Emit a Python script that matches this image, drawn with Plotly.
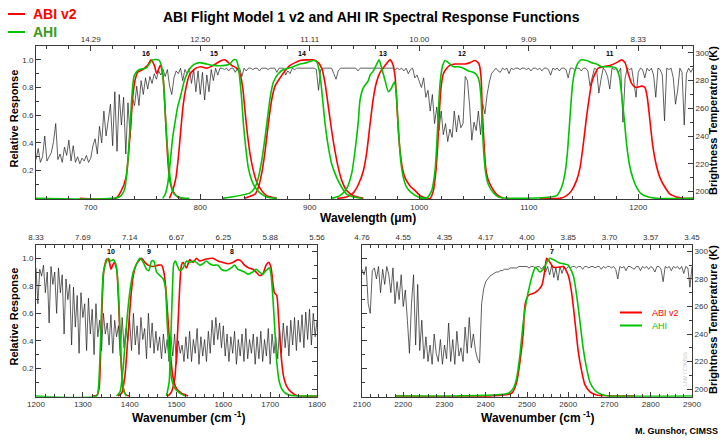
import plotly.graph_objects as go

# ------------------------------------------------------------------ data
# Brightness temperature spectra (K), sampled on a regular wavenumber grid
TOP_BT_START, TOP_BT_STEP = 650, 2
TOP_BT = [
    223, 231, 221, 225, 240, 222, 225, 228, 236, 249,
    223, 227, 221, 232, 226, 237, 222, 233, 221, 225,
    220, 224, 222, 226, 221, 224, 233, 238, 227, 247,
    235, 258, 240, 250, 263, 233, 272, 229, 270, 248,
    268, 227, 264, 239, 268, 262, 276, 262, 280, 270,
    282, 274, 283, 278, 285, 281, 287, 284, 288, 283,
    288, 276, 270, 282, 287, 285, 289, 280, 288, 285,
    289, 278, 288, 272, 287, 270, 286, 266, 284, 272,
    288, 280, 289, 284, 289, 289, 288, 289, 287, 289,
    289, 286, 289, 289, 283, 289, 287, 289, 289, 288,
    289, 289, 287, 289, 289, 289, 288, 289, 289, 289,
    286, 289, 289, 289, 284, 287, 285, 289, 288, 289,
    289, 289, 289, 289, 289, 289, 289, 289, 288, 273,
    288, 289, 289, 289, 289, 289, 285, 281, 287, 289,
    289, 289, 289, 289, 289, 289, 289, 287, 289, 289,
    289, 289, 289, 289, 289, 289, 289, 289, 288, 289,
    289, 289, 289, 289, 288, 289, 288, 289, 287, 289,
    285, 288, 289, 282, 284, 279, 275, 282, 268, 273,
    258, 270, 249, 261, 244, 258, 241, 249, 236, 245,
    239, 258, 243, 255, 246, 249, 283, 280, 262, 237,
    250, 244, 258, 241, 263, 256, 270, 279, 285, 287,
    289, 287, 286, 289, 288, 289, 285, 289, 288, 289,
    289, 288, 289, 289, 288, 289, 287, 289, 289, 288,
    289, 287, 289, 289, 288, 284, 289, 288, 289, 287,
    289, 289, 288, 282, 289, 289, 288, 289, 289, 287,
    289, 289, 287, 276, 283, 289, 288, 271, 281, 289,
    287, 283, 274, 289, 288, 289, 286, 289, 250, 282,
    289, 288, 289, 279, 268, 286, 289, 288, 282, 289,
    287, 289, 284, 268, 289, 288, 284, 251, 289, 288,
    289, 282, 263, 273, 289, 286, 248, 285, 289, 286,
    289,
]

BL_BT_START, BL_BT_STEP = 1200, 4
BL_BT = [
    288, 262, 287, 282, 290, 270, 285, 248, 289, 276,
    285, 255, 288, 270, 283, 240, 280, 265, 276, 232,
    274, 245, 268, 226, 270, 252, 262, 228, 266, 240,
    258, 225, 262, 238, 250, 228, 255, 240, 248, 232,
    254, 226, 250, 238, 246, 224, 252, 230, 244, 235,
    250, 228, 255, 232, 246, 225, 252, 236, 244, 222,
    255, 230, 248, 226, 242, 228, 238, 222, 240, 226,
    236, 220, 238, 224, 240, 218, 235, 226, 232, 220,
    238, 222, 242, 220, 236, 226, 244, 218, 238, 224,
    236, 220, 242, 226, 250, 232, 252, 236, 248, 230,
    246, 224, 240, 220, 238, 226, 242, 218, 236, 224,
    240, 220, 244, 222, 236, 226, 240, 218, 238, 222,
    242, 220, 236, 224, 244, 218, 240, 226, 238, 222,
    244, 226, 248, 230, 246, 224, 250, 232, 252, 228,
    250, 234, 254, 230, 256, 236, 258, 232, 255, 238,
    250,
]

BR_BT_START, BR_BT_STEP = 2100, 5
BR_BT = [
    287, 283, 289, 262, 255, 286, 288, 280, 289, 270,
    287, 276, 289, 283, 270, 288, 262, 278, 265, 283,
    260, 272, 250, 226, 262, 283, 232, 276, 228, 250,
    222, 238, 220, 232, 218, 240, 226, 220, 236, 218,
    232, 222, 248, 220, 236, 218, 242, 224, 230, 220,
    245, 226, 252, 230, 240, 228, 222, 219, 262, 273,
    278, 280, 282, 283, 284, 285, 285, 286, 286, 287,
    287, 287, 288, 288, 288, 288, 289, 289, 289, 289,
    289, 288, 289, 289, 288, 289, 289, 287, 289, 285,
    289, 283, 290, 281, 288, 279, 289, 284, 289, 287,
    289, 288, 289, 289, 288, 289, 289, 287, 289, 289,
    288, 289, 289, 288, 289, 289, 287, 289, 288, 289,
    289, 288, 289, 287, 280, 289, 288, 289, 286, 289,
    289, 288, 287, 289, 289, 286, 289, 288, 289, 287,
    289, 288, 285, 289, 289, 287, 278, 289, 288, 289,
    286, 289, 288, 289, 287, 289, 284, 289, 288, 274,
    289,
]

# ABI v2 (red) and AHI (green) spectral response functions
ABI_B16_WN = [690, 723, 727.6, 732.2, 735.2, 736.8, 738.3, 740.4, 742.8, 747.4, 752.0, 755.0, 758.1,
              760.2, 763.5, 765.7, 767.2, 768.7, 770.2, 771.8, 774.8, 779.4, 784]
ABI_B16 = [0, 0, 0.05, 0.15, 0.39, 0.56, 0.73, 0.85, 0.91, 0.93, 0.96, 1.0, 0.96,
           0.90, 0.96, 0.90, 0.75, 0.51, 0.30, 0.15, 0.056, 0.01, 0]
AHI_B16_WN = [650, 726.1, 730.7, 733.7, 735.8, 737.7, 739.8, 744.4, 750.5, 753.5, 756.5, 762.0, 764.5,
              766.3, 767.8, 769.3, 771.2, 773.3, 776.3, 782.4, 790]
AHI_B16 = [0, 0.01, 0.06, 0.25, 0.5, 0.75, 0.89, 0.93, 0.94, 0.97, 1.0, 1.0, 0.96,
           0.85, 0.65, 0.45, 0.25, 0.10, 0.03, 0.005, 0]

ABI_B15_WN = [771.8, 774.8, 777.8, 780.3, 782.4, 784.5, 787.0, 790.0, 793.1, 796.1, 800.7, 805.9, 812,
              818, 822.6, 825.7, 828.7, 833.3, 836.3, 838.8, 840.9, 843, 845.5, 848.5, 851.5, 856.1,
              860.6, 869.8]
ABI_B15 = [0, 0.056, 0.15, 0.32, 0.51, 0.68, 0.80, 0.89, 0.92, 0.94, 0.95, 0.94, 0.96,
           0.99, 1.0, 0.98, 0.96, 0.94, 0.90, 0.80, 0.63, 0.47, 0.32, 0.20, 0.12, 0.056,
           0.02, 0]
AHI_B15_WN = [765.7, 768, 770.2, 771.8, 773.3, 774.8, 777.2, 779.4, 782.4, 785.5, 788.5, 793.1, 799.2,
              805.9, 812, 822.6, 827.2, 830.2, 832.7, 834.8, 836.3, 837.9, 839.4, 841.5, 843.9,
              847, 850, 854.6, 860.7, 869.8]
AHI_B15 = [0, 0.03, 0.10, 0.20, 0.32, 0.44, 0.56, 0.66, 0.75, 0.85, 0.91, 0.96, 0.98,
           0.97, 0.96, 0.96, 0.97, 1.0, 1.0, 0.95, 0.85, 0.71, 0.54, 0.37, 0.22,
           0.13, 0.08, 0.04, 0.01, 0]

ABI_B14_WN = [840, 850, 853.1, 856.1, 859.2, 862.2, 865.2, 868.3, 872.9, 877.4, 882, 886.6, 891.1,
              897.2, 903.3, 907.9, 910.9, 914, 917, 920, 923.1, 926.1, 929.2, 933.7, 939.8, 949]
ABI_B14 = [0, 0.03, 0.08, 0.18, 0.34, 0.54, 0.71, 0.81, 0.87, 0.92, 0.96, 0.98, 0.995,
           1.0, 1.0, 0.98, 0.94, 0.83, 0.66, 0.49, 0.34, 0.22, 0.13, 0.056, 0.02, 0]
AHI_B14_WN = [820, 845.5, 850, 853.1, 856.1, 859.2, 862.2, 864.3, 866.8, 871.3, 875.9, 880.5, 885,
              891.1, 897.2, 903.3, 906, 907.9, 910, 911.8, 914, 917, 920, 924.6, 929.2, 933.7,
              939.8, 948]
AHI_B14 = [0, 0.04, 0.08, 0.15, 0.27, 0.44, 0.63, 0.75, 0.84, 0.90, 0.93, 0.94, 0.95,
           0.97, 0.98, 0.995, 0.99, 0.95, 0.85, 0.71, 0.54, 0.37, 0.25, 0.15, 0.08, 0.03,
           0.01, 0]

ABI_B13_WN = [925, 933.7, 939.8, 944.4, 949, 952, 955, 958, 961, 964.2, 968.8, 973.3, 975.8, 977.9,
              979.4, 980.9, 982.5, 984.6, 987, 991.6, 996.2, 1000.7, 1006.8]
ABI_B13 = [0, 0.01, 0.04, 0.10, 0.20, 0.33, 0.53, 0.72, 0.84, 0.91, 0.96, 1.0, 0.97, 0.88,
           0.71, 0.49, 0.34, 0.22, 0.15, 0.09, 0.056, 0.02, 0]
AHI_B13_WN = [920, 927.6, 933.7, 938.3, 941.3, 944.4, 945.9, 949, 953.5, 955.1, 958.1, 961.2, 963.3,
              965.7, 968.8, 971.8, 974.2, 977.3, 978.8, 980.3, 981.9, 983.4, 985.5, 988.5, 993.1,
              999.2, 1008]
AHI_B13 = [0, 0.02, 0.07, 0.18, 0.34, 0.56, 0.71, 0.80, 0.85, 0.89, 0.92, 0.97, 1.0,
           0.94, 0.85, 0.77, 0.79, 0.84, 0.78, 0.59, 0.39, 0.25, 0.15, 0.08, 0.04,
           0.01, 0]

ABI_B12_WN = [1000, 1009.9, 1012.9, 1015, 1016.9, 1018.4, 1019.9, 1022, 1025.1, 1028.1, 1032.7, 1037.3,
              1041.8, 1046.4, 1051, 1054.6, 1056.4, 1057.6, 1059.2, 1060.7, 1063.1, 1066.2, 1070.7, 1076.8]
ABI_B12 = [0, 0, 0.056, 0.18, 0.39, 0.63, 0.80, 0.90, 0.94, 0.96, 0.97, 0.97,
           0.97, 0.98, 0.995, 0.97, 0.88, 0.63, 0.39, 0.22, 0.13, 0.08, 0.03, 0]
AHI_B12_WN = [1000, 1006.8, 1011.4, 1014.4, 1016, 1017.5, 1019, 1021.1, 1023.6, 1026.6, 1031.2, 1035.7,
              1040.3, 1044.9, 1049.4, 1052.5, 1054.6, 1056.4, 1057.6, 1059.2, 1060.7, 1063.1, 1067.7,
              1072.3, 1081.4]
AHI_B12 = [0, 0, 0.056, 0.2, 0.39, 0.63, 0.83, 0.95, 0.995, 0.98, 0.95, 0.95,
           0.94, 0.92, 0.91, 0.89, 0.85, 0.73, 0.51, 0.3, 0.18, 0.1, 0.04,
           0.01, 0]

ABI_B11_WN = [1110, 1128.5, 1134.6, 1139.1, 1143.7, 1146.8, 1149.8, 1152.8, 1155.3, 1157.4, 1160.5, 1163.5,
              1168.1, 1174.2, 1180.2, 1184.8, 1187.9, 1190.9, 1193.9, 1197.9, 1203.1, 1206.1, 1208.2,
              1210.7, 1213.1, 1216.2, 1219.8, 1224.4, 1229, 1235, 1241.1, 1250]
ABI_B11 = [0, 0, 0.02, 0.056, 0.13, 0.22, 0.39, 0.59, 0.73, 0.83, 0.90, 0.94,
           0.95, 0.96, 0.98, 1.0, 0.98, 0.90, 0.83, 0.80, 0.81, 0.80, 0.73,
           0.56, 0.39, 0.25, 0.15, 0.08, 0.03, 0.01, 0, 0]
AHI_B11_WN = [1080, 1125.5, 1130, 1133.1, 1135.2, 1137, 1138.5, 1140.1, 1142.2, 1145.2, 1148.3, 1152.8,
              1157.4, 1162, 1166.5, 1171.1, 1175.7, 1179.6, 1182.7, 1184.8, 1187, 1189.4, 1191.8,
              1194.9, 1198.5, 1203.1, 1209.2, 1216.8, 1250]
AHI_B11 = [0, 0.02, 0.08, 0.18, 0.32, 0.51, 0.68, 0.83, 0.92, 0.98, 1.0, 0.995,
           0.98, 0.97, 0.95, 0.95, 0.95, 0.94, 0.88, 0.75, 0.59, 0.39, 0.25,
           0.15, 0.08, 0.03, 0.01, 0, 0]

ABI_B10_WN = [1320, 1330, 1334.7, 1338.3, 1341.1, 1344.6, 1351, 1356, 1360.2, 1363.8, 1367.3, 1372.3,
              1375.8, 1379.4, 1382.9, 1386.5, 1392.1, 1400]
ABI_B10 = [0, 0.005, 0.055, 0.345, 0.66, 0.9, 0.995, 0.98, 0.92, 0.95, 0.97, 0.92,
           0.73, 0.417, 0.176, 0.055, 0.007, 0]
AHI_B10_WN = [1200, 1329.7, 1333.3, 1336.8, 1340.4, 1343.9, 1349.6, 1354.6, 1359.5, 1365.2, 1370.2,
              1373.7, 1377.3, 1380.8, 1384.3, 1387.9, 1393.6]
AHI_B10 = [0, 0, 0.055, 0.3, 0.66, 0.9, 0.97, 1.0, 0.98, 0.99, 0.96,
           0.875, 0.66, 0.34, 0.13, 0.03, 0]

ABI_B09_WN = [1375, 1382.9, 1390, 1397.1, 1402.1, 1407.7, 1414.8, 1425.5, 1432.6, 1439.6, 1450.3, 1460.9,
              1468, 1473, 1477.2, 1482.2, 1487.1, 1492.8, 1499.9, 1510.5, 1524.7]
ABI_B09 = [0, 0.02, 0.15, 0.47, 0.7, 0.875, 0.96, 1.0, 0.97, 0.95, 0.94, 0.95,
           0.95, 0.9, 0.78, 0.54, 0.3, 0.13, 0.055, 0.02, 0]
AHI_B09_WN = [1372, 1379.4, 1386.5, 1392.1, 1397.1, 1402.1, 1407.7, 1414.8, 1421.9, 1429, 1436.1, 1441,
              1446.7, 1451.7, 1457.4, 1464.5, 1471.5, 1476.5, 1480, 1484.3, 1489.3, 1496.4, 1507, 1517.6]
AHI_B09 = [0, 0.03, 0.22, 0.47, 0.66, 0.8, 0.9, 0.96, 1.0, 0.97, 0.92, 0.91,
           0.98, 0.98, 0.9, 0.875, 0.85, 0.78, 0.54, 0.3, 0.13, 0.055, 0.02, 0]

ABI_B08_WN = [1482.2, 1489.3, 1496.4, 1499.9, 1503.5, 1507, 1510.5, 1514.1, 1521.2, 1528.3, 1535.4, 1542.5,
              1549.5, 1563.7, 1577.9, 1588.5, 1599.2, 1609.8, 1620.4, 1631.1, 1638.2, 1645.3, 1654.5,
              1663, 1670.1, 1677.2, 1684.2, 1691.3, 1697, 1702, 1705.5, 1709.1, 1714, 1718.3, 1723.2,
              1728.2, 1735.3, 1744.5, 1758.7, 1800]
ABI_B08 = [0, 0.03, 0.13, 0.3, 0.54, 0.8, 0.95, 0.97, 0.93, 0.99, 0.97, 1.0,
           0.98, 0.995, 1.0, 0.98, 0.97, 0.96, 0.97, 0.99, 0.98, 0.95, 0.93,
           0.92, 0.9, 0.875, 0.885, 0.95, 0.97, 0.93, 0.83, 0.75, 0.73, 0.54, 0.3,
           0.15, 0.07, 0.03, 0, 0]
AHI_B08_WN = [1478.6, 1484.3, 1487.9, 1491.4, 1494.2, 1497.8, 1501.3, 1507, 1514.1, 1521.2, 1528.3, 1535.4,
              1542.5, 1549.5, 1556.6, 1563.7, 1570.8, 1577.9, 1588.5, 1595.6, 1606.3, 1616.9, 1624,
              1631.1, 1638.2, 1645.3, 1652.3, 1663, 1670.1, 1677.2, 1684.2, 1691.3, 1698.4, 1702,
              1705.5, 1709.8, 1714, 1719.7, 1726.8, 1737.4, 1755.1, 1800]
AHI_B08 = [0, 0.1, 0.42, 0.78, 0.96, 0.98, 0.95, 0.91, 0.93, 0.98, 0.97, 0.98,
           0.97, 0.95, 0.96, 0.98, 0.96, 0.95, 0.95, 0.92, 0.91, 0.93, 0.95,
           0.92, 0.91, 0.9, 0.885, 0.9, 0.92, 0.9, 0.885, 0.91, 0.93, 0.875,
           0.73, 0.49, 0.25, 0.1, 0.04, 0.01, 0, 0]

ABI_B07_WN = [2180, 2462.8, 2474.9, 2483, 2491.1, 2495.1, 2503.2, 2519.4, 2535.5, 2543.6, 2547.6, 2555.7,
              2563.8, 2575.9, 2588, 2600.2, 2608.2, 2616.3, 2624.4, 2632.5, 2640.6, 2652.7, 2668.8, 2760]
ABI_B07 = [0, 0.02, 0.1, 0.25, 0.465, 0.66, 0.73, 0.75, 0.8, 0.92, 1.0, 0.97,
           0.935, 0.935, 0.94, 0.875, 0.75, 0.54, 0.32, 0.18, 0.08, 0.03, 0.007, 0]
AHI_B07_WN = [2180, 2454.7, 2466.8, 2474.9, 2483, 2491.1, 2499.2, 2507.2, 2515.3, 2521, 2531.5, 2539.6,
              2547.6, 2555.7, 2576, 2588, 2600, 2612.3, 2620.4, 2628.4, 2636.5, 2644.6, 2652.7,
              2664.8, 2681, 2697, 2900]
AHI_B07 = [0, 0.02, 0.055, 0.13, 0.3, 0.54, 0.7, 0.81, 0.9, 0.935, 0.9, 0.92,
           0.97, 1.0, 0.97, 0.96, 0.95, 0.875, 0.73, 0.54, 0.34, 0.2, 0.1,
           0.04, 0.01, 0, 0]

# tick values and labels
TOP_TICKS = [700, 800, 900, 1000, 1100, 1200]
TOP_TICK_LABELS = ["14.29", "12.50", "11.11", "10.00", "9.09", "8.33"]
BL_TICKS = [1200, 1300, 1400, 1500, 1600, 1700, 1800]
BL_TICK_LABELS = ["8.33", "7.69", "7.14", "6.67", "6.25", "5.88", "5.56"]
BR_TICKS = [2100, 2200, 2300, 2400, 2500, 2600, 2700, 2800, 2900]
BR_TICK_LABELS = ["4.76", "4.55", "4.35", "4.17", "4.00", "3.85", "3.70", "3.57", "3.45"]
REL_TICKS = [0.2, 0.4, 0.6, 0.8, 1.0]
REL_TICK_LABELS = ["0.2", "0.4", "0.6", "0.8", "1.0"]
BT_TICKS = [200, 220, 240, 260, 280, 300]

# channel numbers and where they sit (wavenumber)
TOP_CHANNELS = ["16", "15", "14", "13", "12", "11"]
TOP_CHANNEL_WN = [750.5, 812.6, 893, 967, 1039, 1174]
BL_CHANNELS = ["10", "9", "8"]
BL_CHANNEL_WN = [1360, 1441, 1619]
BR_CHANNELS = ["7"]
BR_CHANNEL_WN = [2560]

# ------------------------------------------------------------------ style
W, H = 725, 440
FONT = "Liberation Sans, Arial, Helvetica, sans-serif"
RED = "#ff0000"
GREEN = "#00c400"
AX = "#3a3a3a"
TICKFONT = dict(family=FONT, size=8, color="#333333")
REL_RANGE = [-0.006, 1.1]
BT_RANGE = [194.4, 305]


def px(x):
    return x / W


def py(y):
    return 1 - y / H


COMMON = dict(showline=True, linecolor=AX, linewidth=1, showgrid=False, zeroline=False,
              fixedrange=True, automargin=False, ticks="inside", ticklen=5, tickcolor=AX,
              tickfont=TICKFONT)


def x_bottom(domain, rng, anchor):
    return dict(domain=domain, range=rng, anchor=anchor, side="bottom",
                tickmode="linear", tick0=0, dtick=100,
                minor=dict(ticks="inside", ticklen=3, tickmode="linear", tick0=0, dtick=20,
                           tickcolor=AX, showgrid=False),
                **COMMON)


def x_top(over, rng, anchor, vals, text):
    return dict(overlaying=over, range=rng, anchor=anchor, side="top",
                tickmode="array", tickvals=vals, ticktext=text,
                minor=dict(ticks="inside", ticklen=3, tickmode="linear", tick0=0, dtick=20,
                           tickcolor=AX, showgrid=False),
                **COMMON)


def y_bt(domain, anchor, labels):
    return dict(domain=domain, range=BT_RANGE, anchor=anchor, side="right",
                tickmode="array", tickvals=BT_TICKS, showticklabels=labels,
                minor=dict(ticks="inside", ticklen=3, tickmode="linear", tick0=0, dtick=10,
                           tickcolor=AX, showgrid=False),
                **COMMON)


def y_rel(over, anchor, labels):
    return dict(overlaying=over, range=REL_RANGE, anchor=anchor, side="left",
                tickmode="array", tickvals=REL_TICKS, ticktext=REL_TICK_LABELS,
                showticklabels=labels,
                minor=dict(ticks="inside", ticklen=3, tickmode="linear", tick0=0.1, dtick=0.2,
                           tickcolor=AX, showgrid=False),
                **COMMON)


fig = go.Figure()


def spectrum(x0, dx, vals, xa, ya):
    fig.add_trace(go.Scatter(x0=x0, dx=dx, y=vals, mode="lines", xaxis=xa, yaxis=ya,
                             line=dict(color="#1c1c1c", width=0.7),
                             hoverinfo="skip", showlegend=False))


def srf(wn, resp, color, xa, ya):
    fig.add_trace(go.Scatter(x=wn, y=resp, mode="lines", xaxis=xa, yaxis=ya,
                             line=dict(color=color, width=1.6, shape="spline", smoothing=0.6),
                             hoverinfo="skip", showlegend=False))


def placeholder(xa, ya):
    fig.add_trace(go.Scatter(x=[None], y=[None], mode="lines", xaxis=xa, yaxis=ya,
                             hoverinfo="skip", showlegend=False))


# top panel: x (bottom) / x2 (top), y (BT right) / y2 (relative left)
spectrum(TOP_BT_START, TOP_BT_STEP, TOP_BT, "x", "y")
for wn, r in [(ABI_B16_WN, ABI_B16), (ABI_B15_WN, ABI_B15), (ABI_B14_WN, ABI_B14),
              (ABI_B13_WN, ABI_B13), (ABI_B12_WN, ABI_B12), (ABI_B11_WN, ABI_B11)]:
    srf(wn, r, RED, "x", "y2")
for wn, r in [(AHI_B16_WN, AHI_B16), (AHI_B15_WN, AHI_B15), (AHI_B14_WN, AHI_B14),
              (AHI_B13_WN, AHI_B13), (AHI_B12_WN, AHI_B12), (AHI_B11_WN, AHI_B11)]:
    srf(wn, r, GREEN, "x", "y2")
placeholder("x2", "y")

# bottom-left panel: x3 / x4, y3 (BT) / y4 (relative)
spectrum(BL_BT_START, BL_BT_STEP, BL_BT, "x3", "y3")
for wn, r in [(ABI_B10_WN, ABI_B10), (ABI_B09_WN, ABI_B09), (ABI_B08_WN, ABI_B08)]:
    srf(wn, r, RED, "x3", "y4")
for wn, r in [(AHI_B10_WN, AHI_B10), (AHI_B09_WN, AHI_B09), (AHI_B08_WN, AHI_B08)]:
    srf(wn, r, GREEN, "x3", "y4")
placeholder("x4", "y3")

# bottom-right panel: x5 / x6, y5 (BT) / y6 (relative)
spectrum(BR_BT_START, BR_BT_STEP, BR_BT, "x5", "y5")
srf(ABI_B07_WN, ABI_B07, RED, "x5", "y6")
srf(AHI_B07_WN, AHI_B07, GREEN, "x5", "y6")
placeholder("x6", "y5")

TOP_DOM_X = [px(36), px(693)]
BL_DOM_X = [px(36), px(317)]
BR_DOM_X = [px(362), px(692)]
TOP_DOM_Y = [py(199.2), py(46)]
BOT_DOM_Y = [py(396.8), py(244.5)]

fig.update_layout(
    width=W, height=H, autosize=False,
    margin=dict(l=0, r=0, t=0, b=0, pad=0, autoexpand=False),
    paper_bgcolor="white", plot_bgcolor="white",
    font=dict(family=FONT, color="#000000"),
    showlegend=False,
    xaxis=x_bottom(TOP_DOM_X, [650, 1250], "y"),
    xaxis2=x_top("x", [650, 1250], "y", TOP_TICKS, TOP_TICK_LABELS),
    yaxis=y_bt(TOP_DOM_Y, "x", True),
    yaxis2=y_rel("y", "x", True),
    xaxis3=x_bottom(BL_DOM_X, [1200, 1800], "y3"),
    xaxis4=x_top("x3", [1200, 1800], "y3", BL_TICKS, BL_TICK_LABELS),
    yaxis3=y_bt(BOT_DOM_Y, "x3", False),
    yaxis4=y_rel("y3", "x3", True),
    xaxis5=x_bottom(BR_DOM_X, [2100, 2900], "y5"),
    xaxis6=x_top("x5", [2100, 2900], "y5", BR_TICKS, BR_TICK_LABELS),
    yaxis5=y_bt(BOT_DOM_Y, "x5", True),
    yaxis6=y_rel("y5", "x5", False),
)

ann = []


def text(x, y, s, size, color="#000000", xanchor="center", yanchor="middle", angle=0, xref="paper",
         yref="paper"):
    ann.append(dict(x=x, y=y, xref=xref, yref=yref, text=s, showarrow=False,
                    xanchor=xanchor, yanchor=yanchor, textangle=angle,
                    font=dict(family=FONT, size=size, color=color)))


# title
text(px(371.5), py(17), "<b>ABI Flight Model 1 v2 and AHI IR Spectral Response Functions</b>", 14)
# top-left legend
text(px(31), py(14), "<b>ABI v2</b>", 14, RED, xanchor="left")
text(px(31), py(32), "<b>AHI</b>", 14, "#3c9a1e", xanchor="left")
# axis titles
text(px(13.5), py(119), "<b>Relative Response</b>", 11, angle=-90)
text(px(13.5), py(317), "<b>Relative Response</b>", 11, angle=-90)
text(px(713), py(121), "<b>Brightness Temperatrure (K)</b>", 11, angle=-90)
text(px(713), py(320), "<b>Brightness Temperatrure (K)</b>", 11, angle=-90)
text(px(367.5), py(218), "<b>Wavelength (\u03bcm)</b>", 12)
text(px(188), py(416.5), "<b>Wavenumber (cm<sup> -1</sup>)</b>", 12)
text(px(537.5), py(416.5), "<b>Wavenumber (cm<sup> -1</sup>)</b>", 12)
# credit and watermark
text(px(720), py(431), "<b>M. Gunshor, CIMSS</b>", 9, xanchor="right")
text(px(685), py(369), "UW / CIMSS", 6, "#c8c8c8", angle=-90)
# lower-right legend
text(px(650), py(312.5), "ABI v2", 9, RED, xanchor="left")
text(px(650), py(325.5), "AHI", 9, GREEN, xanchor="left")

# channel numbers
for lab, wn in zip(TOP_CHANNELS, TOP_CHANNEL_WN):
    text(wn, 1.045, "<b>%s</b>" % lab, 7, xref="x", yref="y2")
for lab, wn in zip(BL_CHANNELS, BL_CHANNEL_WN):
    text(wn, 1.05, "<b>%s</b>" % lab, 7, xref="x3", yref="y4")
for lab, wn in zip(BR_CHANNELS, BR_CHANNEL_WN):
    text(wn, 1.05, "<b>%s</b>" % lab, 7, xref="x5", yref="y6")

fig.update_layout(annotations=ann)

shapes = [
    dict(type="line", xref="paper", yref="paper", x0=px(8), x1=px(25), y0=py(14), y1=py(14),
         line=dict(color=RED, width=2)),
    dict(type="line", xref="paper", yref="paper", x0=px(8), x1=px(25), y0=py(32), y1=py(32),
         line=dict(color=GREEN, width=2)),
    dict(type="line", xref="paper", yref="paper", x0=px(620), x1=px(642), y0=py(312.5), y1=py(312.5),
         line=dict(color=RED, width=2)),
    dict(type="line", xref="paper", yref="paper", x0=px(620), x1=px(642), y0=py(325.5), y1=py(325.5),
         line=dict(color=GREEN, width=2)),
]
fig.update_layout(shapes=shapes)

fig.write_html("out.html", config={"displayModeBar": False},
               post_script="document.body.style.margin='0px';document.body.style.padding='0px';")
